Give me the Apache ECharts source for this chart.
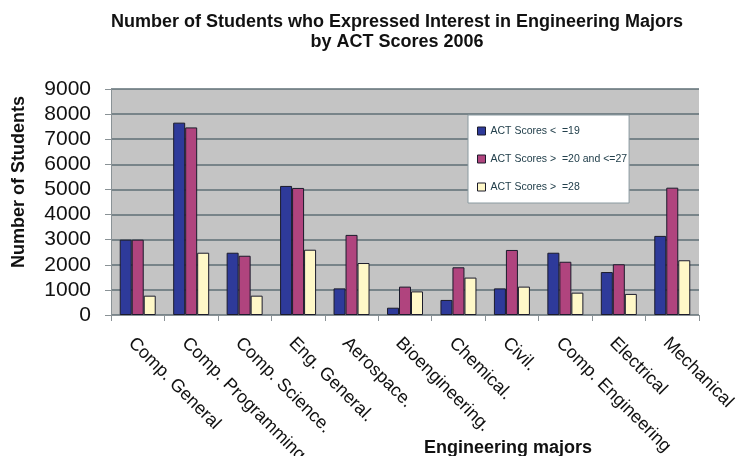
<!DOCTYPE html>
<html>
<head>
<meta charset="utf-8">
<script src="https://cdn.jsdelivr.net/npm/echarts@6/dist/echarts.min.js"></script>
<style>
html,body{margin:0;padding:0;background:#ffffff;}
#chart{width:736px;height:456px;}
</style>
</head>
<body>
<div id="chart"></div>
<script>
const categories = ["Comp. General", "Comp. Programming", "Comp. Science.", "Eng. General.", "Aerospace.", "Bioengineering.", "Chemical.", "Civil.", "Comp. Engineering", "Electrical", "Mechanical"];
const seriesNames = ["ACT Scores <  =19", "ACT Scores >  =20 and <=27", "ACT Scores >  =28"];
const actLow = [3000, 7660, 2480, 5140, 1060, 290, 600, 1060, 2480, 1710, 3150];
const actMid = [3000, 7470, 2360, 5060, 3190, 1130, 1900, 2590, 2120, 2020, 5070];
const actHigh = [770, 2480, 770, 2600, 2070, 940, 1490, 1130, 890, 840, 2180];
const yTicks = { min: 0, max: 9000, interval: 1000 };

const colors = ['#2e3a9a', '#b0447e', '#fff8c8'];
const chart = echarts.init(document.getElementById('chart'), null, {renderer: 'canvas'});
const barStyle = (c) => ({ color: c, borderColor: '#1b1b2b', borderWidth: 1 });
const FONT = 'Liberation Sans, Arial, sans-serif';
chart.setOption({
  animation: false,
  backgroundColor: '#ffffff',
  title: [
    {
      text: 'Number of Students who Expressed Interest in Engineering Majors\nby ACT Scores 2006',
      left: 392, top: 7, textAlign: 'center',
      textStyle: { fontFamily: FONT, fontWeight: 'bold', fontSize: 18, lineHeight: 20, color: '#111111' }
    },
    {
      text: 'Engineering majors',
      left: 503, top: 434, textAlign: 'center',
      textStyle: { fontFamily: FONT, fontWeight: 'bold', fontSize: 18, color: '#111111' }
    }
  ],
  legend: {
    orient: 'vertical',
    left: 468, top: 115,
    padding: [10, 2, 10, 9],
    itemGap: 16,
    itemWidth: 8, itemHeight: 8,
    icon: 'rect',
    backgroundColor: '#ffffff',
    borderColor: '#8a9aa0',
    borderWidth: 1,
    itemStyle: { borderColor: '#1b1b2b', borderWidth: 1 },
    textStyle: { fontFamily: FONT, fontSize: 10.5, lineHeight: 12, color: '#23404c' },
    data: seriesNames
  },
  grid: {
    left: 111, right: 37, top: 89, bottom: 141,
    outerBoundsMode: 'none',
    containLabel: false,
    show: true, backgroundColor: '#c4c4c4', borderWidth: 0
  },
  xAxis: {
    type: 'category',
    data: categories,
    axisLine: { lineStyle: { color: '#8a9296', width: 1 } },
    axisTick: { show: true, length: 6, lineStyle: { color: '#8a9296' } },
    axisLabel: {
      rotate: -45, interval: 0, margin: 19, verticalAlign: 'top',
      fontFamily: FONT, fontSize: 18, color: '#111111'
    }
  },
  yAxis: {
    type: 'value',
    min: yTicks.min, max: yTicks.max, interval: yTicks.interval,
    name: 'Number of Students',
    nameLocation: 'middle',
    nameGap: 83,
    nameTextStyle: { fontFamily: FONT, fontWeight: 'bold', fontSize: 18, color: '#111111', padding: [0, 0, 0, 40] },
    axisLine: { show: true, lineStyle: { color: '#8a9296', width: 1 } },
    axisTick: { show: true, length: 6, lineStyle: { color: '#8a9296' } },
    axisLabel: { margin: 20, fontFamily: FONT, fontSize: 21, color: '#111111', formatter: (v) => String(v) },
    splitLine: { show: true, lineStyle: { color: '#5f6f76', width: 1.5 } }
  },
  series: [
    { name: seriesNames[0], type: 'bar', data: actLow, barWidth: 12, barGap: '0%', itemStyle: barStyle(colors[0]) },
    { name: seriesNames[1], type: 'bar', data: actMid, barWidth: 12, barGap: '0%', itemStyle: barStyle(colors[1]) },
    { name: seriesNames[2], type: 'bar', data: actHigh, barWidth: 12, barGap: '0%', itemStyle: barStyle(colors[2]) }
  ]
});
</script>
</body>
</html>
